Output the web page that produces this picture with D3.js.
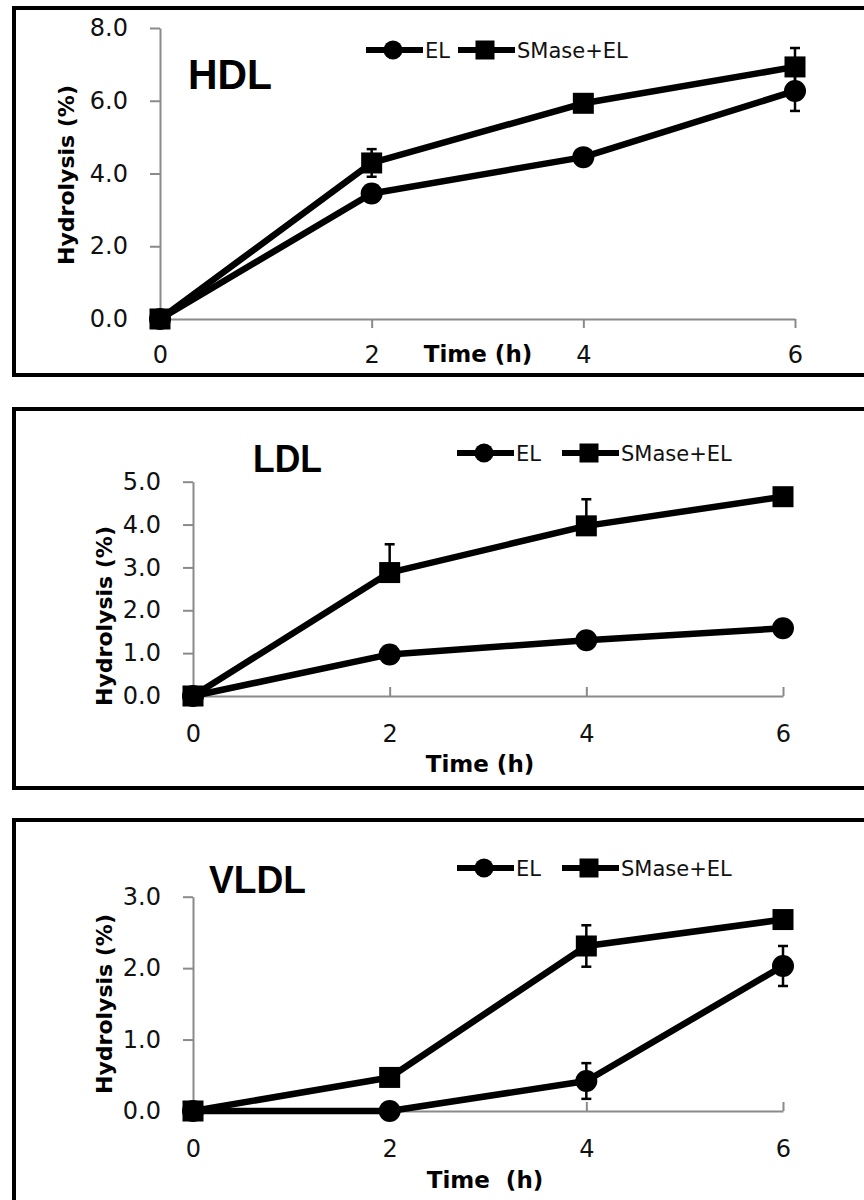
<!DOCTYPE html>
<html>
<head>
<meta charset="utf-8">
<script src="https://cdn.jsdelivr.net/npm/d3@7"></script>
<style>
  body { margin: 0; background: #fff; }
  svg { display: block; }
</style>
</head>
<body>
<div id="chart"></div>
<script>
// time points (h)
const times = [0, 2, 4, 6];
const seriesNames = ["EL", "SMase+EL"];

// HDL
const hdlEL = [0, 3.45, 4.45, 6.27];
const hdlELErr = [0, 0.15, 0.1, 0.55];
const hdlSM = [0, 4.29, 5.93, 6.93];
const hdlSMErr = [0, 0.38, 0.15, 0.52];
const hdlTicks = [0, 2, 4, 6, 8];

// LDL (only upper error bars shown)
const ldlEL = [0, 0.97, 1.3, 1.58];
const ldlELErr = [0, 0.05, 0.05, 0.05];
const ldlSM = [0, 2.88, 3.97, 4.65];
const ldlSMErr = [0, 0.66, 0.62, 0.05];
const ldlTicks = [0, 1, 2, 3, 4, 5];

// VLDL
const vldlEL = [0, 0, 0.42, 2.03];
const vldlELErr = [0, 0, 0.25, 0.28];
const vldlSM = [0, 0.47, 2.31, 2.68];
const vldlSMErr = [0, 0.05, 0.29, 0.05];
const vldlTicks = [0, 1, 2, 3];

const width = 864, height = 1200;

const svg = d3.select("#chart").append("svg")
  .attr("width", width)
  .attr("height", height);

const panels = [
  { title: "HDL", el: hdlEL, elErr: hdlELErr, sm: hdlSM, smErr: hdlSMErr, ticks: hdlTicks,
    upperOnly: false, xTitle: "Time (h)",
    frameTop: 8, frameBottom: 375,
    x0: 160, x1: 795, yBottom: 319, yTop: 28, tickDir: 1, tickLabelDy: 44,
    titleX: 188, titleY: 89, titleSize: 42, titleLen: 84,
    legendY: 50, legendX: [366, 458],
    yTitleX: 66, yTitleY: 175, xTitleX: 478, xTitleY: 362 },
  { title: "LDL", el: ldlEL, elErr: ldlELErr, sm: ldlSM, smErr: ldlSMErr, ticks: ldlTicks,
    upperOnly: true, xTitle: "Time (h)",
    frameTop: 409, frameBottom: 788,
    x0: 193, x1: 783, yBottom: 696, yTop: 481.7, tickDir: -1, tickLabelDy: 46,
    titleX: 253, titleY: 472, titleSize: 38, titleLen: 69,
    legendY: 453, legendX: [457, 562],
    yTitleX: 104, yTitleY: 616, xTitleX: 480, xTitleY: 772 },
  { title: "VLDL", el: vldlEL, elErr: vldlELErr, sm: vldlSM, smErr: vldlSMErr, ticks: vldlTicks,
    upperOnly: false, xTitle: "Time  (h)",
    frameTop: 820, frameBottom: 1210,
    x0: 193, x1: 783, yBottom: 1111, yTop: 896.7, tickDir: -1, tickLabelDy: 46,
    titleX: 209, titleY: 893, titleSize: 38, titleLen: 97,
    legendY: 868, legendX: [457, 562],
    yTitleX: 104, yTitleY: 1004, xTitleX: 485, xTitleY: 1188 }
];

const axisGray = "#8a8a8a";
const tickFont = "'DejaVu Sans', sans-serif";

function drawMarker(g, shape, cx, cy, size) {
  if (shape === "circle") {
    g.append("circle").attr("cx", cx).attr("cy", cy).attr("r", size / 2).attr("fill", "#000");
  } else {
    g.append("rect").attr("x", cx - size / 2).attr("y", cy - size / 2)
      .attr("width", size).attr("height", size).attr("fill", "#000");
  }
}

panels.forEach(p => {
  const g = svg.append("g");

  // frame
  g.append("rect")
    .attr("x", 14).attr("y", p.frameTop)
    .attr("width", 870).attr("height", p.frameBottom - p.frameTop)
    .attr("fill", "none").attr("stroke", "#000").attr("stroke-width", 4);

  const yMax = d3.max(p.ticks);
  const x = d3.scaleLinear().domain([0, 6]).range([p.x0, p.x1]);
  const y = d3.scaleLinear().domain([0, yMax]).range([p.yBottom, p.yTop]);

  // y axis
  const yAxis = g.append("g")
    .attr("transform", `translate(${p.x0},0)`)
    .call(d3.axisLeft(y).tickValues(p.ticks).tickFormat(d3.format(".1f"))
      .tickSize(10).tickSizeOuter(0).tickPadding(22));
  yAxis.select(".domain").attr("stroke", axisGray).attr("stroke-width", 2);
  yAxis.selectAll(".tick line").attr("stroke", axisGray).attr("stroke-width", 2);
  yAxis.selectAll(".tick text")
    .attr("font-family", tickFont).attr("font-size", 24).attr("fill", "#111");

  // x axis
  const xAxis = g.append("g")
    .attr("transform", `translate(0,${p.yBottom})`)
    .call(d3.axisBottom(x).tickValues(times).tickFormat(d3.format("d"))
      .tickSize(9 * p.tickDir).tickSizeOuter(0));
  xAxis.select(".domain").attr("stroke", axisGray).attr("stroke-width", 2);
  xAxis.selectAll(".tick line").attr("stroke", axisGray).attr("stroke-width", 2);
  xAxis.selectAll(".tick text")
    .attr("y", p.tickLabelDy).attr("dy", null)
    .attr("font-family", tickFont).attr("font-size", 24).attr("fill", "#111");

  // axis titles
  g.append("text")
    .attr("transform", `translate(${p.yTitleX},${p.yTitleY}) rotate(-90)`)
    .attr("text-anchor", "middle").attr("dy", "0.36em")
    .attr("font-family", tickFont).attr("font-weight", "bold").attr("font-size", 22)
    .text("Hydrolysis (%)");

  g.append("text")
    .attr("x", p.xTitleX).attr("y", p.xTitleY)
    .attr("text-anchor", "middle")
    .attr("font-family", tickFont).attr("font-weight", "bold").attr("font-size", 23)
    .style("white-space", "pre")
    .text(p.xTitle);

  // panel title
  g.append("text")
    .attr("x", p.titleX).attr("y", p.titleY)
    .attr("font-family", "'Liberation Sans', Arial, sans-serif").attr("font-weight", "bold")
    .attr("font-size", p.titleSize)
    .attr("textLength", p.titleLen).attr("lengthAdjust", "spacingAndGlyphs")
    .text(p.title);

  const series = [
    { name: seriesNames[0], values: p.el, err: p.elErr, shape: "circle", size: 22 },
    { name: seriesNames[1], values: p.sm, err: p.smErr, shape: "square", size: 21 }
  ];

  const line = d3.line().x((d, i) => x(times[i])).y(d => y(d));

  series.forEach(s => {
    g.append("path")
      .datum(s.values)
      .attr("d", line)
      .attr("fill", "none").attr("stroke", "#000").attr("stroke-width", 6.5)
      .attr("stroke-linejoin", "round");
  });

  // error bars
  series.forEach(s => {
    s.values.forEach((v, i) => {
      const e = s.err[i];
      if (!e) return;
      const cx = x(times[i]);
      const hi = y(v + e);
      const lo = p.upperOnly ? y(v) : y(Math.max(0, v - e));
      g.append("line").attr("x1", cx).attr("x2", cx).attr("y1", hi).attr("y2", lo)
        .attr("stroke", "#000").attr("stroke-width", 2.5);
      g.append("line").attr("x1", cx - 5).attr("x2", cx + 5).attr("y1", hi).attr("y2", hi)
        .attr("stroke", "#000").attr("stroke-width", 2.5);
      if (!p.upperOnly) {
        g.append("line").attr("x1", cx - 5).attr("x2", cx + 5).attr("y1", lo).attr("y2", lo)
          .attr("stroke", "#000").attr("stroke-width", 2.5);
      }
    });
  });

  // markers
  series.forEach(s => {
    s.values.forEach((v, i) => drawMarker(g, s.shape, x(times[i]), y(v), s.size));
  });

  // legend
  series.forEach((s, k) => {
    const lx = p.legendX[k];
    g.append("line")
      .attr("x1", lx).attr("x2", lx + 57)
      .attr("y1", p.legendY).attr("y2", p.legendY)
      .attr("stroke", "#000").attr("stroke-width", 6);
    drawMarker(g, s.shape, lx + 27, p.legendY, 19);
    g.append("text")
      .attr("x", lx + 59).attr("y", p.legendY).attr("dy", "0.36em")
      .attr("font-family", tickFont).attr("font-size", 21).attr("fill", "#111")
      .text(s.name);
  });
});
</script>
</body>
</html>
